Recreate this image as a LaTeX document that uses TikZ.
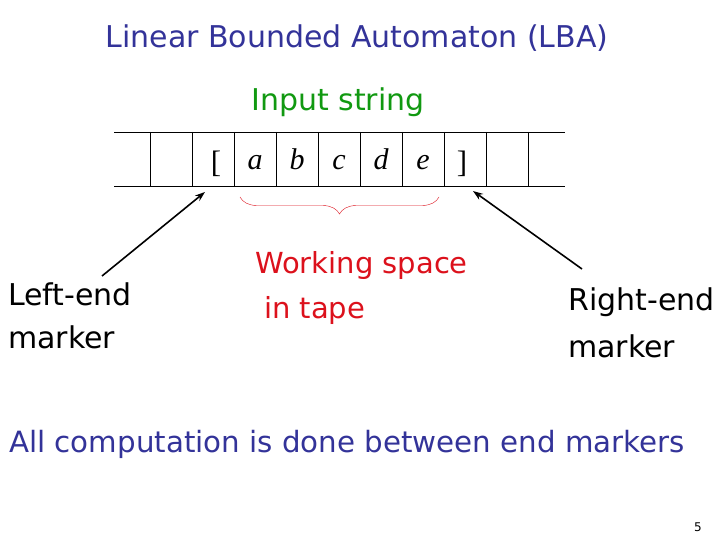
\documentclass[tikz,border=0pt]{standalone}
\usepackage{fontspec}
\setmainfont{DejaVu Sans}
\newfontfamily\tapefont{Liberation Serif}
\usetikzlibrary{arrows.meta,decorations.pathreplacing}

\definecolor{titleblue}{RGB}{51,51,153}
\definecolor{inputgreen}{RGB}{17,153,17}
\definecolor{spacered}{RGB}{220,17,28}

\begin{document}
\begin{tikzpicture}[x=1pt,y=-1pt,
	every node/.style={inner sep=0pt},
	heading/.style={font=\fontsize{30}{36}\selectfont, text=titleblue},
	caption/.style={font=\fontsize{30}{45}\selectfont, align=left},
	sym/.style={font=\tapefont\itshape\fontsize{30}{32}\selectfont},
	marker/.style={font=\tapefont\fontsize{31}{34}\selectfont},
	pointer/.style={line width=1.6pt, -{Stealth[length=10pt,width=7pt]}}]

	% ---- parameters

	\def\cellw{42}
	\def\tapetop{132}
	\def\tapebot{186}

	\useasboundingbox (0,0) rectangle (720,540);

	% ---- headings

	\node[heading, anchor=base] (title) at (357,48) {Linear Bounded Automaton (LBA)};
	\node[heading, text=inputgreen, font=\fontsize{30}{34}\selectfont, anchor=base] (input) at (338,111) {Input string};

	% ---- tape

	\draw (114,\tapetop) -- (565,\tapetop);
	\draw (114,\tapebot) -- (565,\tapebot);
	\foreach \i in {0,...,9} { \draw ({150+\cellw*\i},\tapetop) -- ({150+\cellw*\i},\tapebot); }

	% ---- tape symbols

	\node[marker, anchor=base] (lmark) at (216,173) {[};
	\foreach \s [count=\i] in {a,b,c,d,e} {
		\node[sym, anchor=base] (s\i) at ({213+\cellw*\i},170) {\s};
	}
	\node[marker, anchor=base] (rmark) at (462,173) {]};

	% ---- working space brace

	\draw[spacered, decorate, decoration={brace, mirror, amplitude=17pt}] (240,197) -- (439,197);

	% ---- labels (base = last line)

	\node[caption, font=\fontsize{30}{43}\selectfont, anchor=base west] (leftlbl) at (8,348) {Left-end\\marker};
	\node[caption, text=spacered, font=\fontsize{29}{45}\selectfont, anchor=base west] (worklbl) at (255,318) {Working space\\\hspace*{9pt}in tape};
	\node[caption, font=\fontsize{30}{47}\selectfont, anchor=base west] (rightlbl) at (568,357) {Right-end\\marker};

	% ---- pointers

	\coordinate (ltail) at (102,276);
	\coordinate (ltip) at (205,192);
	\coordinate (rtail) at (582,269);
	\coordinate (rtip) at (473,191);
	\draw[pointer] (ltail) -- (ltip);
	\draw[pointer] (rtail) -- (rtip);

	% ---- footer

	\node[heading, font=\fontsize{29.3}{34}\selectfont, anchor=base west] (summary) at (9,452) {All computation is done between end markers};
	\node[font=\fontsize{12}{14}\selectfont] (page) at (698,527) {5};

\end{tikzpicture}
\end{document}
